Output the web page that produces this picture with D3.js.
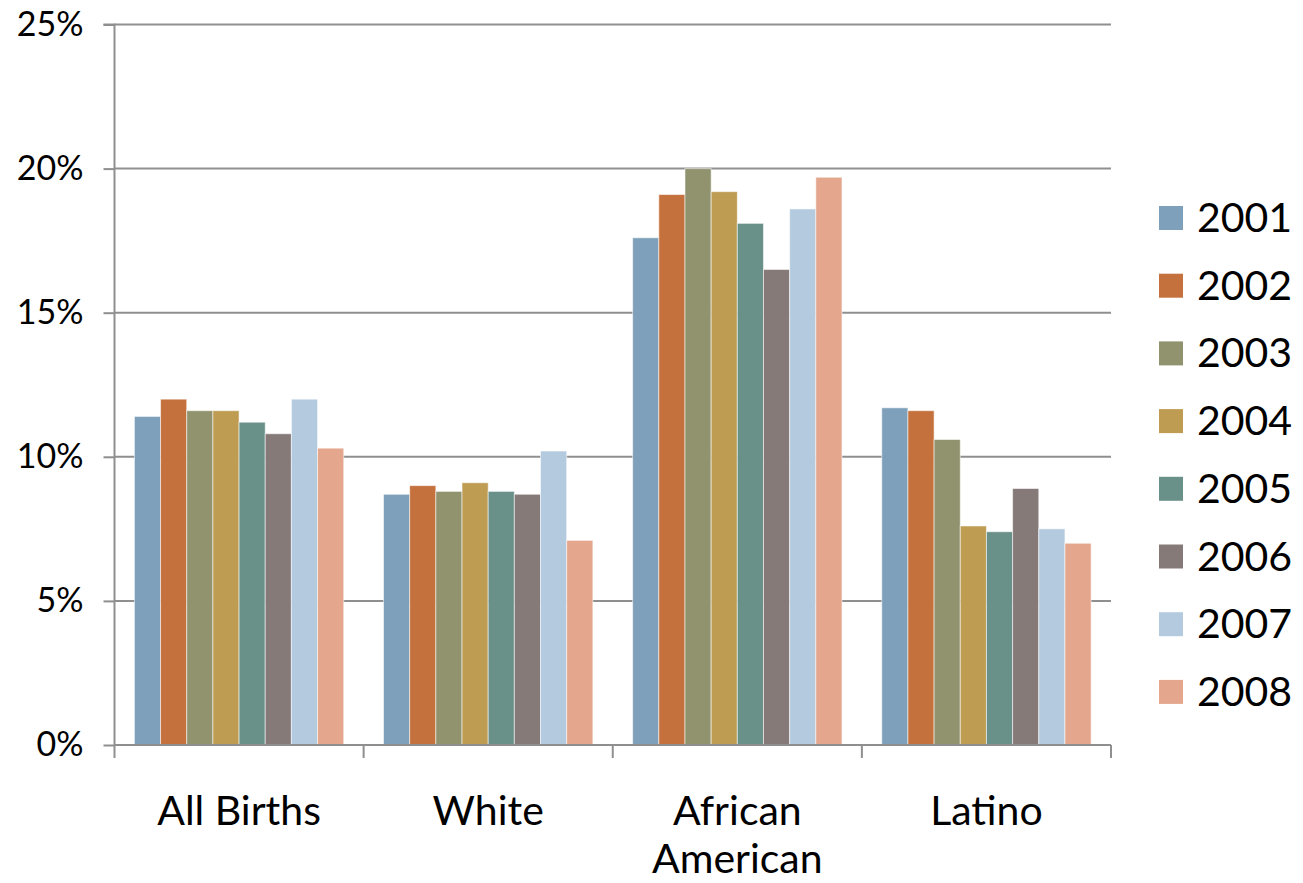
<!DOCTYPE html>
<html>
<head>
<meta charset="utf-8">
<script src="https://cdn.jsdelivr.net/npm/d3@7"></script>
<style>
  html, body { margin: 0; padding: 0; background: #fff; overflow: hidden; }
  svg { display: block; font-family: Lato, "Open Sans", sans-serif; }
</style>
</head>
<body>
<svg id="chart" width="1303" height="883"></svg>
<script>
const categories = ["All Births", "White", "African American", "Latino"];
const categoryLines = [["All Births"], ["White"], ["African", "American"], ["Latino"]];
const years = ["2001", "2002", "2003", "2004", "2005", "2006", "2007", "2008"];
const values2001 = [11.4, 8.7, 17.6, 11.7];
const values2002 = [12.0, 9.0, 19.1, 11.6];
const values2003 = [11.6, 8.8, 20.0, 10.6];
const values2004 = [11.6, 9.1, 19.2, 7.6];
const values2005 = [11.2, 8.8, 18.1, 7.4];
const values2006 = [10.8, 8.7, 16.5, 8.9];
const values2007 = [12.0, 10.2, 18.6, 7.5];
const values2008 = [10.3, 7.1, 19.7, 7.0];
const seriesValues = [values2001, values2002, values2003, values2004, values2005, values2006, values2007, values2008];
const colors = ["#7fa0ba", "#c4713d", "#91936e", "#be9c52", "#6a9189", "#857a78", "#b3cadf", "#e4a78d"];
const yTicks = [0, 5, 10, 15, 20, 25];

const svg = d3.select("#chart");
const plot = { left: 114.5, right: 1111, top: 24.5, bottom: 745 };

const x0 = d3.scaleBand().domain(categories).range([plot.left, plot.right]).paddingInner(0).paddingOuter(0);
const x1 = d3.scaleBand().domain(years).range([0, x0.bandwidth()]).paddingInner(0).paddingOuter(0.76);
const y = d3.scaleLinear().domain([0, 25]).range([plot.bottom, plot.top]);
const color = d3.scaleOrdinal().domain(years).range(colors);

// gridlines
svg.append("g")
  .selectAll("line")
  .data(yTicks.filter(t => t > 0))
  .join("line")
  .attr("x1", plot.left).attr("x2", plot.right)
  .attr("y1", d => y(d)).attr("y2", d => y(d))
  .attr("stroke", "#8f8f8f").attr("stroke-width", 2);

// bars
const data = [];
categories.forEach((c, ci) => {
  years.forEach((yr, yi) => data.push({ cat: c, year: yr, value: seriesValues[yi][ci] }));
});
svg.append("g")
  .selectAll("rect")
  .data(data)
  .join("rect")
  .attr("x", d => x0(d.cat) + x1(d.year))
  .attr("y", d => y(d.value))
  .attr("width", x1.bandwidth())
  .attr("height", d => y(0) - y(d.value))
  .attr("fill", d => color(d.year))
  .attr("stroke", "rgba(255,255,255,0.55)")
  .attr("stroke-width", 1);

// y axis
const yAxis = d3.axisLeft(y).tickValues(yTicks).tickFormat(d => d + "%").tickSize(11).tickPadding(20);
const gy = svg.append("g").attr("transform", `translate(${plot.left},0)`).call(yAxis);
gy.select(".domain").attr("stroke", "#8f8f8f").attr("stroke-width", 2).attr("d", `M-11,${plot.top}H0V${plot.bottom}`);
gy.selectAll(".tick line").attr("stroke", "#8f8f8f").attr("stroke-width", 2);
gy.selectAll(".tick text").attr("font-size", 34).attr("fill", "#000").attr("font-family", "Lato, sans-serif");

// x axis
const xAxis = d3.axisBottom(x0).tickSize(13).tickFormat("");
const gx = svg.append("g").attr("transform", `translate(0,${plot.bottom})`).call(xAxis);
gx.select(".domain").attr("stroke", "#8f8f8f").attr("stroke-width", 2).attr("d", `M${plot.left},0H${plot.right}`);
gx.selectAll(".tick").remove();
const boundaries = categories.map(c => x0(c)).concat([x0(categories[categories.length - 1]) + x0.bandwidth()]);
gx.append("g").selectAll("line").data(boundaries).join("line")
  .attr("x1", d => d).attr("x2", d => d).attr("y1", 0).attr("y2", 13)
  .attr("stroke", "#8f8f8f").attr("stroke-width", 2);

// category labels
const labels = svg.append("g").attr("font-size", 41).attr("fill", "#000").attr("text-anchor", "middle");
categories.forEach((c, ci) => {
  const t = labels.append("text").attr("x", x0(c) + x0.bandwidth() / 2).attr("y", 825);
  categoryLines[ci].forEach((line, li) => {
    t.append("tspan").attr("x", x0(c) + x0.bandwidth() / 2).attr("dy", li === 0 ? 0 : 48).text(line);
  });
});

// legend
const legend = svg.append("g").attr("transform", "translate(1159,206)");
const li = legend.selectAll("g").data(years).join("g").attr("transform", (d, i) => `translate(0,${i * 67.7})`);
li.append("rect").attr("width", 24).attr("height", 24).attr("fill", d => color(d));
li.append("text").attr("x", 38).attr("y", 26).attr("font-size", 41).attr("fill", "#000").text(d => d);
</script>
</body>
</html>
